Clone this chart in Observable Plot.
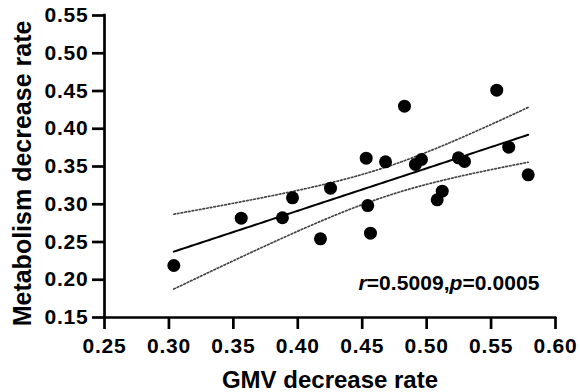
<!DOCTYPE html>
<html><head><meta charset="utf-8">
<script src="https://cdn.jsdelivr.net/npm/d3@7"></script>
<script src="https://cdn.jsdelivr.net/npm/@observablehq/plot@0.6"></script>
<style>body{margin:0;background:#fff}</style>
</head><body><div id="chart"></div>
<script>
// GMV decrease rate (x) and Metabolism decrease rate (y)
const gmv   = [0.3038,0.3561,0.3881,0.3959,0.4254,0.4176,0.4828,0.5544,0.4531,0.4681,0.4913,0.4960,0.5247,0.5294,0.5637,0.5788,0.4543,0.4564,0.5121,0.5082];
const metab = [0.2189,0.2815,0.2821,0.3085,0.3213,0.2542,0.4299,0.4511,0.3610,0.3562,0.3527,0.3593,0.3615,0.3566,0.3756,0.3390,0.2983,0.2617,0.3173,0.3059];
const xTicks = [0.25,0.30,0.35,0.40,0.45,0.50,0.55,0.60];
const yTicks = [0.15,0.20,0.25,0.30,0.35,0.40,0.45,0.50,0.55];
const xTitle = "GMV decrease rate";
const yTitle = "Metabolism decrease rate";
const statParts = [["r",true],["=0.5009,",false],["p",true],["=0.0005",false]];
const statText = statParts.map(d=>d[0]).join("");

const pts = gmv.map((x,i)=>({x, y: metab[i]}));
// ordinary least squares fit with 95% confidence band
const n = pts.length;
const mx = d3.mean(gmv), my = d3.mean(metab);
const sxx = d3.sum(gmv, x => (x-mx)**2);
const sxy = d3.sum(pts, d => (d.x-mx)*(d.y-my));
const slope = sxy/sxx, intercept = my - slope*mx;
const sse = d3.sum(pts, d => (d.y - intercept - slope*d.x)**2);
const s = Math.sqrt(sse/(n-2));
function tq(df){ // Cornish-Fisher approximation of the 0.975 t quantile
  const z = 1.959964;
  return z + (z**3+z)/(4*df) + (5*z**5+16*z**3+3*z)/(96*df**2) + (3*z**7+19*z**5+17*z**3-15*z)/(384*df**3);
}
const t = tq(n-2);
const [x0,x1] = d3.extent(gmv);
const fit = d3.range(0,101).map(i => {
  const x = x0 + (x1-x0)*i/100;
  const yh = intercept + slope*x;
  const h = t*s*Math.sqrt(1/n + (x-mx)**2/sxx);
  return {x, yh, lo: yh-h, hi: yh+h};
});

const fmt = d3.format(".2f");
const chart = Plot.plot({
  width: 580, height: 392,
  marginLeft: 104, marginRight: 25, marginTop: 15, marginBottom: 75,
  style: {fontFamily: "'Liberation Sans', Arial, sans-serif", fontWeight: "bold", color: "#000", background: "#fff", overflow: "visible"},
  x: {domain: [0.25, 0.60]},
  y: {domain: [0.15, 0.55]},
  marks: [
    Plot.line(fit, {x: "x", y: "hi", stroke: "#444", strokeWidth: 1.7, strokeDasharray: "1.6,2.1"}),
    Plot.line(fit, {x: "x", y: "lo", stroke: "#444", strokeWidth: 1.7, strokeDasharray: "1.6,2.1"}),
    Plot.line(fit, {x: "x", y: "yh", stroke: "#000", strokeWidth: 2}),
    Plot.dot(pts, {x: "x", y: "y", r: 6.5, fill: "#000"}),
    Plot.axisX({ticks: xTicks, tickSize: 12, tickPadding: 9, tickFormat: fmt, fontSize: 21, strokeWidth: 2.7, fill: "#000", stroke: "#000", label: null}),
    Plot.axisY({ticks: yTicks, tickSize: 12, tickPadding: 4, tickFormat: fmt, fontSize: 21, strokeWidth: 2.7, fill: "#000", stroke: "#000", label: null}),
    Plot.ruleX([0.25], {stroke: "#000", strokeWidth: 2.7, strokeLinecap: "square"}),
    Plot.ruleY([0.15], {stroke: "#000", strokeWidth: 2.7, strokeLinecap: "square"}),
    Plot.text([xTitle], {text: d => d, frameAnchor: "bottom", textAnchor: "middle", dy: 70, lineAnchor: "bottom", fontSize: 24, fontWeight: "bold", fill: "#000"}),
    Plot.text([yTitle], {text: d => d, frameAnchor: "left", textAnchor: "middle", rotate: -90, dx: -82, dy: 7, fontSize: 25, fontWeight: "bold", fill: "#000"}),
    Plot.text([statText], {text: d => d, frameAnchor: "bottom-right", textAnchor: "end", dx: -16, dy: -28, lineAnchor: "bottom", fontSize: 21, fontWeight: "bold", fill: "#000"})
  ]
});
document.getElementById("chart").appendChild(chart);
// tick labels are drawn slightly wider in the reference
d3.select(chart).selectAll("text").filter(function(){ return xTicks.concat(yTicks).map(fmt).includes(this.textContent); })
  .attr("letter-spacing", "0.8px");
// italic r and p in the statistics annotation, stretched to the reference width
d3.select(chart).selectAll("text").filter(function(){ return this.textContent === statText; })
  .each(function(){
    const el = d3.select(this);
    el.text("");
    statParts.forEach(([str, it]) => el.append("tspan").text(str).attr("font-style", it ? "italic" : null));
    const len = this.getComputedTextLength();
    const target = 181;
    el.attr("letter-spacing", ((target - len) / statText.length).toFixed(2) + "px");
  });
</script>
</body></html>
